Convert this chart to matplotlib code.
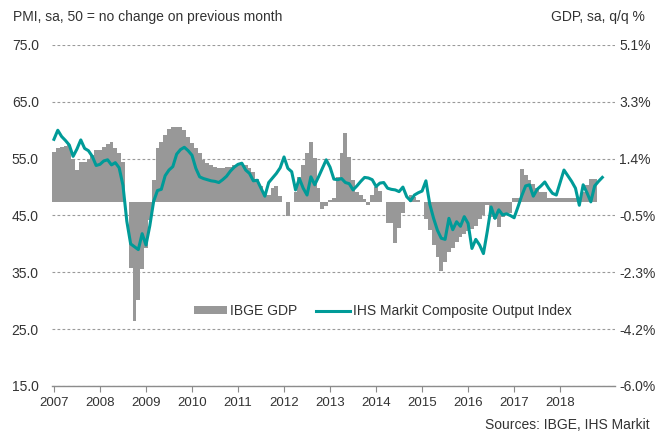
import numpy as np
import matplotlib.pyplot as plt

plt.rcParams['font.family'] = ['Liberation Sans', 'DejaVu Sans']

# Monthly values from Jan 2007
pmi = [58.4, 60.0, 58.9, 58.2, 57.4, 55.4, 56.7, 58.3, 56.8, 56.4, 55.4, 53.8,
       54.0, 54.6, 54.8, 53.9, 54.3, 53.4, 50.3, 44.0, 40.0, 39.5, 39.0, 41.8,
       39.8, 43.2, 47.5, 49.4, 49.6, 52.0, 53.0, 53.6, 55.8, 56.6, 57.0, 56.4,
       55.6, 53.3, 51.8, 51.5, 51.3, 51.1, 51.0, 50.8, 51.3, 51.9, 52.8, 53.5,
       54.0, 54.2, 53.0, 52.4, 51.1, 51.2, 49.8, 48.4, 50.8, 51.6, 52.4, 53.4,
       55.3, 53.3, 52.7, 49.5, 51.5, 49.8, 48.6, 51.8, 50.4, 51.8, 53.3, 54.8,
       53.5, 51.4, 51.3, 51.5, 50.8, 50.6, 49.5, 50.2, 51.0, 51.7, 51.6, 51.3,
       50.1, 50.7, 50.8, 49.8, 49.6, 49.5, 49.2, 50.0, 48.3, 47.6, 48.6, 49.0,
       49.3, 51.1, 47.0, 44.5, 42.4, 41.0, 40.8, 44.5, 42.5, 43.9, 43.1, 44.8,
       43.6, 39.2, 40.8, 39.8, 38.3, 42.2, 46.5, 44.5, 46.0, 45.1, 45.3, 45.0,
       44.6, 46.5, 48.5, 50.2, 50.4, 48.4, 49.6, 50.2, 50.9, 49.8, 48.9, 48.6,
       50.8, 53.0, 52.0, 51.0, 49.8, 46.8, 50.4, 49.0, 47.4, 50.2, 51.0, 51.7]

gdp = [1.63, 1.74, 1.78, 1.81, 1.85, 1.40, 1.03, 1.30, 1.30, 1.40, 1.52, 1.68,
       1.68, 1.79, 1.87, 1.95, 1.74, 1.58, 1.30, 0.00, -2.17, -3.90, -3.20, -2.20,
       -1.50, -0.60, 0.71, 1.74, 1.95, 2.17, 2.36, 2.44, 2.44, 2.44, 2.33, 2.12,
       1.90, 1.75, 1.58, 1.36, 1.25, 1.19, 1.12, 1.09, 1.09, 1.12, 1.14, 1.19,
       1.22, 1.22, 1.19, 1.10, 0.95, 0.74, 0.50, 0.30, 0.22, 0.45, 0.50, 0.19,
       0.00, -0.47, 0.00, 0.30, 0.81, 1.19, 1.60, 1.95, 1.41, 0.44, -0.25, -0.14,
       0.05, 0.11, 0.80, 1.58, 2.23, 1.45, 0.71, 0.33, 0.22, 0.08, -0.11, 0.22,
       0.49, 0.35, 0.00, -0.68, -0.70, -1.35, -0.87, -0.36, 0.00, 0.22, 0.15, 0.05,
       0.00, -0.55, -0.92, -1.40, -1.80, -2.25, -1.95, -1.63, -1.50, -1.30, -1.15, -1.05,
       -0.95, -0.90, -0.80, -0.55, -0.45, -0.10, -0.49, -0.55, -0.81, -0.50, -0.38, -0.38,
       0.11, 0.11, 1.05, 0.87, 0.71, 0.58, 0.44, 0.33, 0.33, 0.11, 0.11, 0.11,
       0.11, 0.11, 0.11, 0.11, 0.11, 0.11, 0.30, 0.55, 0.73, 0.73]

years = [str(y) for y in range(2007, 2019)]
pmi_ticks = [15, 25, 35, 45, 55, 65, 75]
pmi_tick_labels = ["15.0", "25.0", "35.0", "45.0", "55.0", "65.0", "75.0"]
gdp_tick_labels = ["-6.0%", "-4.2%", "-2.3%", "-0.5%", "1.4%", "3.3%", "5.1%"]

grey = '#989898'
teal = '#009b98'
txt = '#333333'

fig = plt.figure(figsize=(6.67, 4.36), dpi=100)
ax = fig.add_axes([0.078, 0.1147, 0.844, 0.7821])   # GDP bars
ax2 = ax.twinx()                                      # PMI line

bars = ax.bar(np.arange(len(gdp)), gdp, width=1.0, color=grey, linewidth=0,
              label='IBGE GDP')
line, = ax2.plot(np.arange(len(pmi)), pmi, color=teal, lw=2.2,
                 solid_joinstyle='round', label='IHS Markit Composite Output Index')

ax.set_xlim(-0.5, 146.3)
ax.set_ylim(-6.0, 5.1)
ax2.set_ylim(15, 75)

# GDP scale on the right, PMI scale on the left
ax.set_yticks(np.linspace(-6.0, 5.1, 7))
ax.set_yticklabels(gdp_tick_labels)
ax.yaxis.tick_right()
ax2.set_yticks(pmi_ticks)
ax2.set_yticklabels(pmi_tick_labels)
ax2.yaxis.tick_left()

ax.grid(axis='y', color='#9a9a9a', lw=0.8, ls=(0, (2.5, 2)))
ax.set_axisbelow(True)

ax.set_xticks(np.arange(len(years)) * 12)
ax.set_xticklabels(years)

for s in ax.spines.values():
    s.set_visible(False)
for s in ax2.spines.values():
    s.set_visible(False)
ax.spines['bottom'].set_visible(True)
ax.spines['bottom'].set_color('#8c8c8c')
ax.spines['bottom'].set_linewidth(1.0)

ax.tick_params(axis='x', length=4, color='#8c8c8c', pad=4, labelsize=9.5, labelcolor=txt)
ax.tick_params(axis='y', length=0, pad=3, labelsize=10, labelcolor=txt)
ax2.tick_params(axis='y', length=0, pad=9.5, labelsize=10, labelcolor=txt)

fig.text(13 / 667, 1 - 17 / 436, 'PMI, sa, 50 = no change on previous month',
         ha='left', va='center', fontsize=10, color=txt)
fig.text(645 / 667, 1 - 17 / 436, 'GDP, sa, q/q %',
         ha='right', va='center', fontsize=10, color=txt)
fig.text(650 / 667, 1 - 425 / 436, 'Sources: IBGE, IHS Markit',
         ha='right', va='center', fontsize=10, color=txt)

fig.legend([bars, line], ['IBGE GDP', 'IHS Markit Composite Output Index'],
           loc='center', bbox_to_anchor=(0.5735, 0.2867), ncol=2, frameon=False,
           handlelength=2.4, handleheight=0.45, handletextpad=0.2,
           columnspacing=1.4, fontsize=10, labelcolor=txt)

fig.savefig('out.png', dpi=100)
